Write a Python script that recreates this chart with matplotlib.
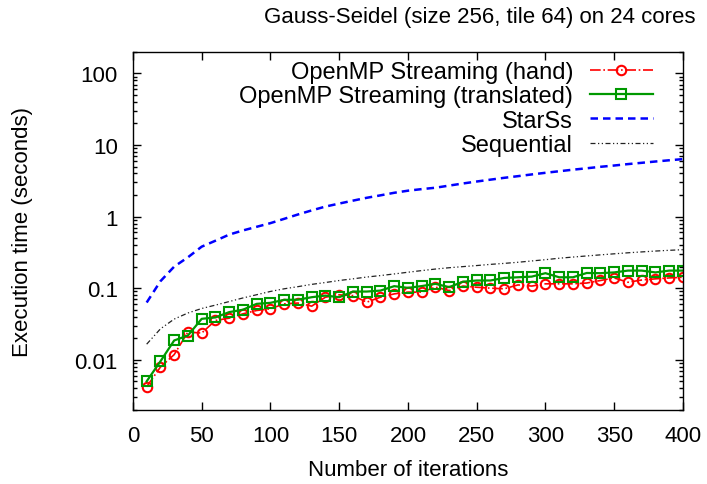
import matplotlib
matplotlib.use('Agg')
import matplotlib.pyplot as plt
from matplotlib.ticker import LogLocator, FuncFormatter, MultipleLocator, NullFormatter

plt.rcParams['font.family'] = ['Liberation Sans', 'DejaVu Sans']

#number of iterations
iterations = [10, 20, 30, 40, 50, 60, 70, 80, 90, 100,
              110, 120, 130, 140, 150, 160, 170, 180, 190, 200,
              210, 220, 230, 240, 250, 260, 270, 280, 290, 300,
              310, 320, 330, 340, 350, 360, 370, 380, 390, 400]

#execution times (seconds)
omp_hand = [0.0042, 0.0079, 0.0118, 0.0244, 0.0236, 0.0354, 0.0381, 0.0438, 0.0488, 0.0515,
            0.0604, 0.062, 0.0561, 0.0748, 0.0807, 0.0788, 0.0637, 0.0748, 0.0832, 0.0881,
            0.088, 0.1034, 0.0925, 0.107, 0.103, 0.100, 0.098, 0.111, 0.107, 0.115,
            0.115, 0.115, 0.118, 0.128, 0.139, 0.121, 0.130, 0.135, 0.139, 0.142]

omp_translated = [0.005, 0.0095, 0.0186, 0.0218, 0.0373, 0.039, 0.0463, 0.050, 0.0604, 0.0624,
                  0.0687, 0.069, 0.0748, 0.0788, 0.0748, 0.0897, 0.0897, 0.0925, 0.1067, 0.101,
                  0.107, 0.115, 0.1034, 0.123, 0.128, 0.128, 0.139, 0.142, 0.145, 0.162,
                  0.142, 0.142, 0.163, 0.162, 0.166, 0.176, 0.176, 0.166, 0.176, 0.176]

starss = [0.063, 0.125, 0.2, 0.27, 0.38, 0.46, 0.56, 0.64, 0.72, 0.81,
          0.93, 1.07, 1.22, 1.38, 1.52, 1.67, 1.83, 1.98, 2.15, 2.3,
          2.42, 2.53, 2.71, 2.9, 3.09, 3.28, 3.48, 3.67, 3.88, 4.09,
          4.3, 4.52, 4.73, 4.96, 5.17, 5.41, 5.64, 5.88, 6.12, 6.35]

sequential = [0.0165, 0.027, 0.037, 0.045, 0.052, 0.058, 0.065, 0.073, 0.081, 0.09,
              0.098, 0.105, 0.113, 0.12, 0.128, 0.135, 0.143, 0.15, 0.158, 0.167,
              0.176, 0.185, 0.193, 0.2, 0.207, 0.215, 0.222, 0.23, 0.24, 0.25,
              0.262, 0.272, 0.282, 0.292, 0.302, 0.312, 0.321, 0.33, 0.338, 0.345]

fig = plt.figure(figsize=(7.07, 4.85), dpi=100)
ax = fig.add_axes([0.188, 0.153, 0.778, 0.738])

ax.plot(iterations, omp_hand, color='#ff0000', linestyle='-.', linewidth=1.2,
        marker='o', markersize=6.8, markerfacecolor='none', markeredgewidth=1.5,
        label='OpenMP Streaming (hand)')
ax.plot(iterations, omp_translated, color='#009900', linestyle='-', linewidth=1.6,
        marker='s', markersize=6.8, markerfacecolor='none', markeredgewidth=1.5,
        label='OpenMP Streaming (translated)')
ax.plot(iterations, starss, color='#0000ff', linestyle=(0, (3, 2)), linewidth=1.8,
        label='StarSs')
ax.plot(iterations, sequential, color='#222222', linestyle=(0, (4, 2, 1, 2, 1, 2)),
        linewidth=0.9, label='Sequential')

ax.set_yscale('log')
ax.set_xlim(0, 400)
ax.set_ylim(0.002, 200)

ax.xaxis.set_major_locator(MultipleLocator(50))
ax.yaxis.set_major_locator(LogLocator(base=10, numticks=10))
ax.yaxis.set_minor_locator(LogLocator(base=10, subs=range(2, 10), numticks=20))
ax.yaxis.set_minor_formatter(NullFormatter())
ax.yaxis.set_major_formatter(FuncFormatter(lambda v, p: '%g' % v))

ax.tick_params(which='both', direction='in', top=True, right=True, labelsize=16)
ax.tick_params(which='major', length=6, width=1)
ax.tick_params(which='minor', length=3, width=1)
ax.tick_params(axis='x', pad=11)
ax.tick_params(axis='y', pad=11)
for s in ax.spines.values():
    s.set_linewidth(1.0)

ax.set_xlabel('Number of iterations', fontsize=16, labelpad=9)
ax.set_ylabel('Execution time (seconds)', fontsize=16, labelpad=30)
fig.text(0.679, 0.963, 'Gauss-Seidel (size 256, tile 64) on 24 cores', fontsize=16,
         ha='center', va='center')

ax.legend(loc='upper right', frameon=False, markerfirst=False, fontsize=17,
          handlelength=2.67, handletextpad=0.7, labelspacing=0.1,
          borderaxespad=0, borderpad=0, bbox_to_anchor=(0.945, 0.975))

plt.savefig('out.png', dpi=100)
